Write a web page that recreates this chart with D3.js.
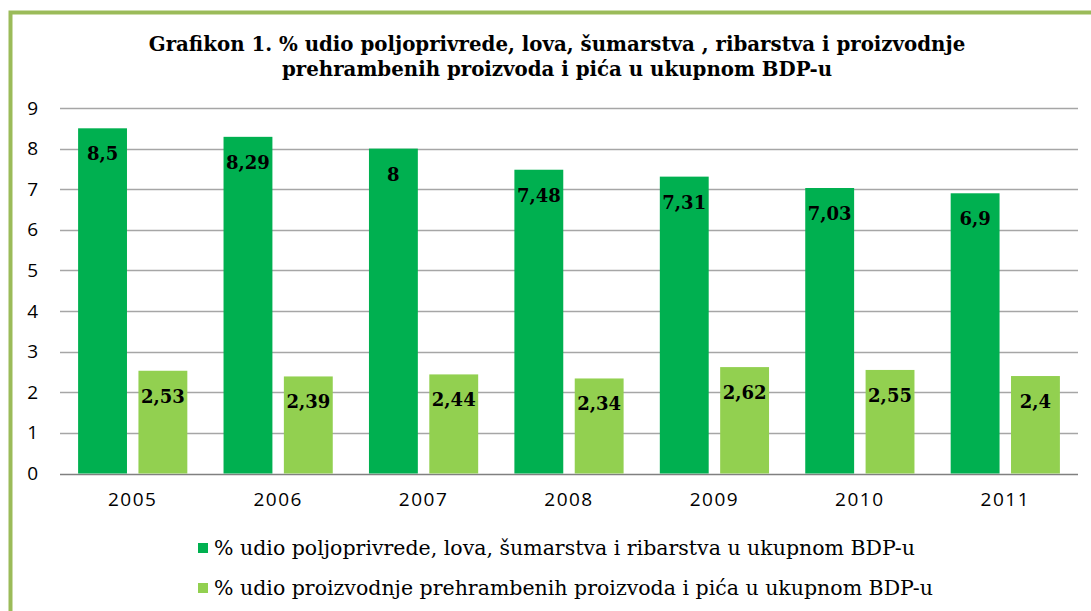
<!DOCTYPE html>
<html>
<head>
<meta charset="utf-8">
<script src="https://cdn.jsdelivr.net/npm/d3@7"></script>
<style>
  body { margin: 0; background: #ffffff; }
  svg { display: block; }
</style>
</head>
<body>
<div id="chart"></div>
<script>
'use strict';

// chart data
var years = ['2005', '2006', '2007', '2008', '2009', '2010', '2011'];
var agriShare = [8.5, 8.29, 8, 7.48, 7.31, 7.03, 6.9];
var foodShare = [2.53, 2.39, 2.44, 2.34, 2.62, 2.55, 2.4];
var seriesNames = [
    '% udio poljoprivrede, lova, šumarstva i ribarstva u ukupnom BDP-u',
    '% udio proizvodnje prehrambenih proizvoda i pića u ukupnom BDP-u'
];
var yTicks = [0, 1, 2, 3, 4, 5, 6, 7, 8, 9];
var titleLines = [
    'Grafikon 1. % udio poljoprivrede, lova, šumarstva , ribarstva i proizvodnje',
    'prehrambenih proizvoda i pića u ukupnom BDP-u'
];

var width = 1091, height = 611,
    colors = ['#00b050', '#92d050'],
    plot = {left: 60, right: 1078, top: 108, bottom: 473.5};

var svg = d3.select('#chart').append('svg')
    .attr('width', width)
    .attr('height', height);

// frame
svg.append('rect')
    .attr('x', 10.5).attr('y', 12.5)
    .attr('width', 1100).attr('height', 650)
    .attr('fill', 'none')
    .attr('stroke', '#9bbb59')
    .attr('stroke-width', 4);

// title
svg.append('g').selectAll('text')
    .data(titleLines).enter()
    .append('text')
    .attr('x', 557)
    .attr('y', function(d, i){ return 51 + i * 25; })
    .attr('text-anchor', 'middle')
    .attr('font-family', '"DejaVu Serif", serif')
    .attr('font-weight', 'bold')
    .attr('font-size', '19.8px')
    .attr('fill', '#000')
    .text(function(d){ return d; });

var x0 = d3.scaleBand()
    .domain(years)
    .range([plot.left, plot.right])
    .paddingInner(0)
    .paddingOuter(0);

var x1 = d3.scaleBand()
    .domain([0, 1])
    .range([0, x0.bandwidth()])
    .paddingInner(0.19)
    .paddingOuter(0.3);

var y = d3.scaleLinear()
    .domain([0, 9])
    .range([plot.bottom, plot.top]);

// gridlines
svg.append('g').selectAll('line')
    .data(yTicks).enter()
    .append('line')
    .attr('x1', plot.left).attr('x2', plot.right)
    .attr('y1', function(d){ return Math.round(y(d)) + 0.5; })
    .attr('y2', function(d){ return Math.round(y(d)) + 0.5; })
    .attr('stroke', function(d){ return d === 0 ? '#808080' : '#a6a6a6'; })
    .attr('stroke-width', 1.3);

// y axis labels
var yAxis = d3.axisLeft(y).tickValues(yTicks).tickSize(0).tickPadding(0);
var yg = svg.append('g')
    .attr('transform', 'translate(38,0)')
    .call(yAxis);
yg.select('.domain').remove();
yg.selectAll('text')
    .attr('font-family', '"Open Sans", sans-serif')
    .attr('font-size', '19px')
    .attr('fill', '#000');

// x axis labels
var xAxis = d3.axisBottom(x0).tickSize(0).tickPadding(0);
var xg = svg.append('g')
    .attr('transform', 'translate(0,' + (plot.bottom + 19) + ')')
    .call(xAxis);
xg.select('.domain').remove();
xg.selectAll('text')
    .attr('font-family', '"Open Sans", sans-serif')
    .attr('font-size', '19px')
    .attr('letter-spacing', '1.5px')
    .attr('fill', '#000');

// bars
var rows = years.map(function(yr, i){
    return {year: yr, values: [agriShare[i], foodShare[i]]};
});

var groups = svg.append('g').selectAll('g')
    .data(rows).enter()
    .append('g')
    .attr('transform', function(d){ return 'translate(' + x0(d.year) + ',0)'; });

groups.selectAll('rect')
    .data(function(d){ return d.values.map(function(v, k){ return {k: k, v: v}; }); })
    .enter()
    .append('rect')
    .attr('x', function(d){ return x1(d.k); })
    .attr('width', x1.bandwidth())
    .attr('y', function(d){ return y(d.v); })
    .attr('height', function(d){ return y(0) - y(d.v); })
    .attr('fill', function(d){ return colors[d.k]; });

groups.selectAll('text')
    .data(function(d){ return d.values.map(function(v, k){ return {k: k, v: v}; }); })
    .enter()
    .append('text')
    .attr('x', function(d){ return x1(d.k) + x1.bandwidth() / 2; })
    .attr('y', function(d){ return y(d.v) + 32; })
    .attr('text-anchor', 'middle')
    .attr('font-family', '"DejaVu Serif", serif')
    .attr('font-weight', 'bold')
    .attr('font-size', '18px')
    .attr('fill', '#000')
    .text(function(d){ return String(d.v).replace('.', ','); });

// legend
var legend = svg.append('g').selectAll('g')
    .data(seriesNames).enter()
    .append('g')
    .attr('transform', function(d, i){ return 'translate(198,' + (548 + i * 40) + ')'; });
legend.append('rect')
    .attr('x', 0).attr('y', -5)
    .attr('width', 10).attr('height', 10)
    .attr('fill', function(d, i){ return colors[i]; });
legend.append('text')
    .attr('x', 16)
    .attr('y', 7)
    .attr('font-family', '"DejaVu Serif", serif')
    .attr('font-size', '20.5px')
    .attr('fill', '#000')
    .text(function(d){ return d; });
</script>
</body>
</html>
